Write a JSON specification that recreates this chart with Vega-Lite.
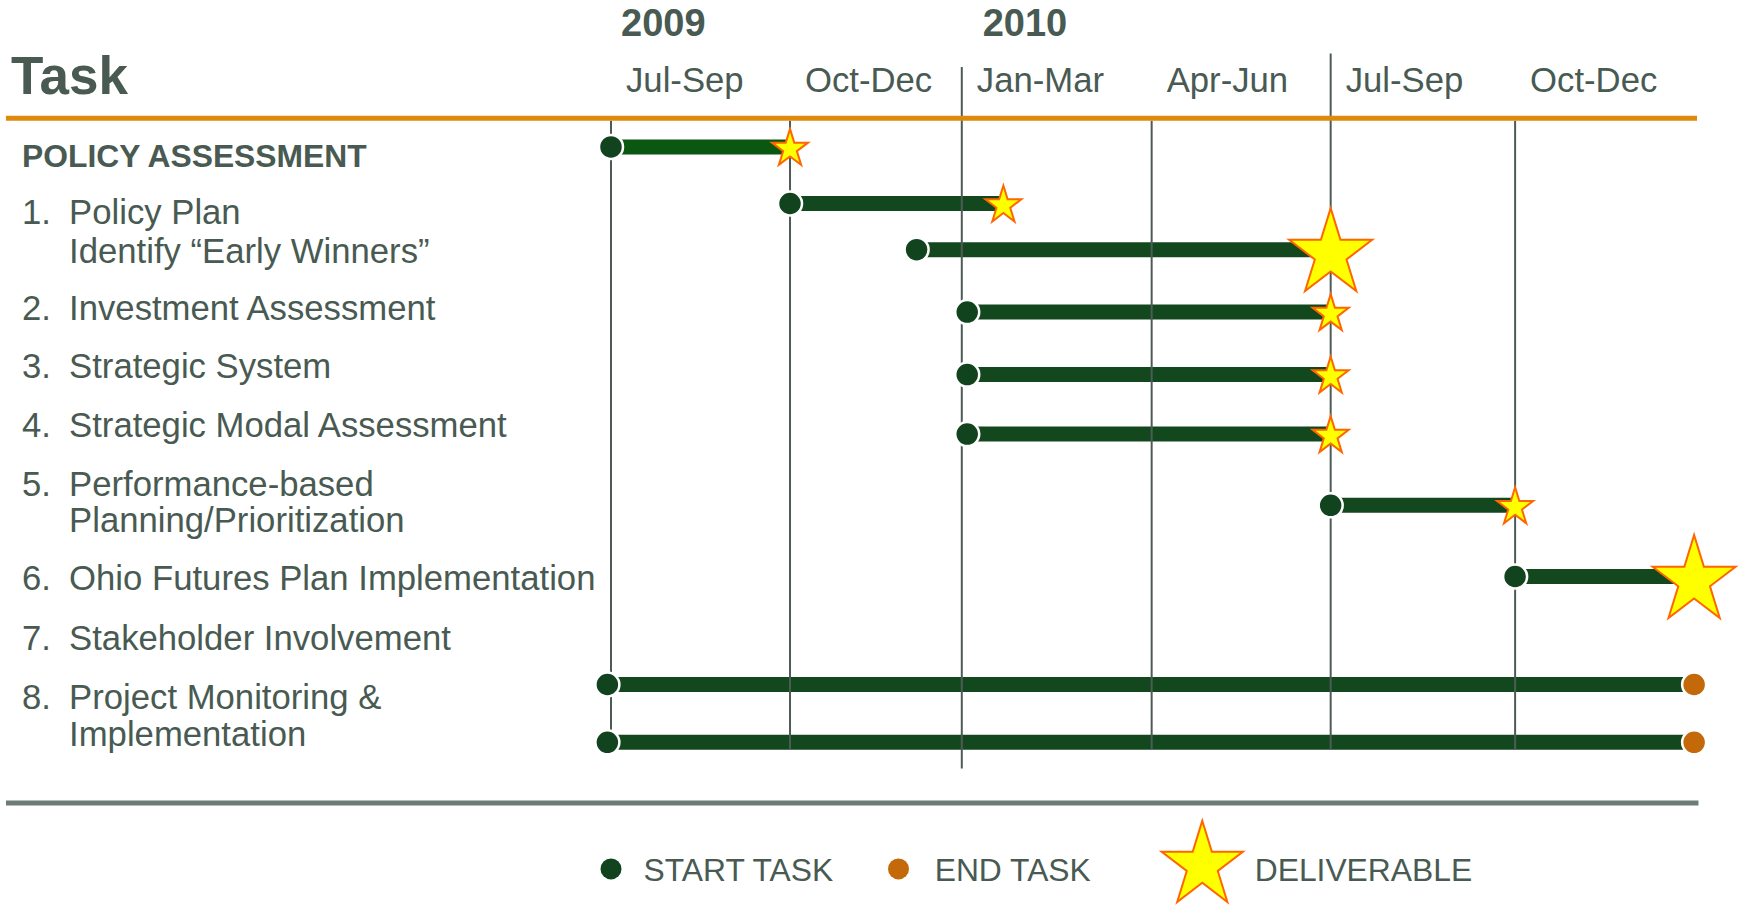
{
  "$schema": "https://vega.github.io/schema/vega-lite/v6.json",
  "width": 1750,
  "height": 906,
  "autosize": {"type": "fit", "contains": "padding"},
  "padding": 0,
  "background": "white",
  "config": {"view": {"stroke": null}, "font": "Liberation Sans", "text": {"font": "Liberation Sans"}},
  "data": {"values": [{}]},
  "datasets": {
    "tasks": [
      {"task": "Policy Assessment", "row": -0.15, "start": 0, "end": 0.99, "finish": "deliverable", "level": "minor"},
      {"task": "Policy Plan", "row": 0.82, "start": 0.99, "end": 2.17, "finish": "deliverable", "level": "minor"},
      {"task": "Identify Early Winners", "row": 1.61, "start": 1.69, "end": 3.98, "finish": "deliverable", "level": "major"},
      {"task": "Investment Assessment", "row": 2.68, "start": 1.97, "end": 3.98, "finish": "deliverable", "level": "minor"},
      {"task": "Strategic System", "row": 3.75, "start": 1.97, "end": 3.98, "finish": "deliverable", "level": "minor"},
      {"task": "Strategic Modal Assessment", "row": 4.77, "start": 1.97, "end": 3.98, "finish": "deliverable", "level": "minor"},
      {"task": "Performance-based Planning/Prioritization", "row": 5.99, "start": 3.98, "end": 5, "finish": "deliverable", "level": "minor"},
      {"task": "Ohio Futures Plan Implementation", "row": 7.21, "start": 5, "end": 5.99, "finish": "deliverable", "level": "major"},
      {"task": "Project Monitoring", "row": 9.06, "start": -0.02, "end": 5.99, "finish": "end", "level": "none"},
      {"task": "Implementation", "row": 10.05, "start": -0.02, "end": 5.99, "finish": "end", "level": "none"}
    ],
    "labels": [
      {"num": "1.", "text": "Policy Plan", "row": 0.96},
      {"num": "", "text": "Identify “Early Winners”", "row": 1.63},
      {"num": "2.", "text": "Investment Assessment", "row": 2.61},
      {"num": "3.", "text": "Strategic System", "row": 3.61},
      {"num": "4.", "text": "Strategic Modal Assessment", "row": 4.62},
      {"num": "5.", "text": "Performance-based", "row": 5.62},
      {"num": "", "text": "Planning/Prioritization", "row": 6.25},
      {"num": "6.", "text": "Ohio Futures Plan Implementation", "row": 7.24},
      {"num": "7.", "text": "Stakeholder Involvement", "row": 8.27},
      {"num": "8.", "text": "Project Monitoring &", "row": 9.27},
      {"num": "", "text": "Implementation", "row": 9.90}
    ],
    "quarters": [
      {"q": 0, "label": "Jul-Sep"},
      {"q": 0.99, "label": "Oct-Dec"},
      {"q": 1.94, "label": "Jan-Mar"},
      {"q": 2.99, "label": "Apr-Jun"},
      {"q": 3.98, "label": "Jul-Sep"},
      {"q": 5, "label": "Oct-Dec"}
    ],
    "years": [
      {"q": 0, "year": "2009"},
      {"q": 2, "year": "2010"}
    ]
  },
  "layer": [
    {
      "data": {"name": "tasks"},
      "mark": {"type": "rule", "strokeWidth": 15},
      "encoding": {
        "x": {"field": "start", "type": "quantitative", "scale": {"type": "linear", "domain": [-3.379, 6.299], "nice": false, "zero": false}, "axis": null},
        "x2": {"field": "end"},
        "y": {"field": "row", "type": "quantitative", "scale": {"type": "linear", "domain": [-2.6667, 12.8205], "reverse": true, "nice": false, "zero": false}, "axis": null},
        "color": {"condition": {"test": "datum.task === 'Policy Assessment'", "value": "#0a5712"}, "value": "#13481f"}
      }
    },
    {
      "data": {"name": "quarters"},
      "transform": [{"filter": "datum.label !== 'Jan-Mar' && !(datum.label === 'Jul-Sep' && datum.q > 3)"}],
      "mark": {"type": "rule", "strokeWidth": 2, "color": "#4d5b56"},
      "encoding": {
        "x": {"field": "q", "type": "quantitative", "scale": {"type": "linear", "domain": [-3.379, 6.299], "nice": false, "zero": false}, "axis": null},
        "y": {"datum": -0.60, "type": "quantitative", "scale": {"type": "linear", "domain": [-2.6667, 12.8205], "reverse": true, "nice": false, "zero": false}, "axis": null},
        "y2": {"datum": 10.17}
      }
    },
    {
      "data": {"name": "quarters"},
      "transform": [{"filter": "datum.label === 'Jan-Mar'"}],
      "mark": {"type": "rule", "strokeWidth": 2, "color": "#4d5b56"},
      "encoding": {
        "x": {"field": "q", "type": "quantitative", "axis": null},
        "y": {"datum": -1.52, "type": "quantitative", "axis": null},
        "y2": {"datum": 10.50}
      }
    },
    {
      "data": {"name": "quarters"},
      "transform": [{"filter": "datum.label === 'Jul-Sep' && datum.q > 3"}],
      "mark": {"type": "rule", "strokeWidth": 2, "color": "#4d5b56"},
      "encoding": {
        "x": {"field": "q", "type": "quantitative", "axis": null},
        "y": {"datum": -1.75, "type": "quantitative", "axis": null},
        "y2": {"datum": 10.17}
      }
    },
    {
      "mark": {"type": "rule", "strokeWidth": 5, "color": "#df8a0c"},
      "encoding": {
        "x": {"datum": -3.346, "type": "quantitative", "axis": null},
        "x2": {"datum": 6.006},
        "y": {"datum": -0.64, "type": "quantitative", "axis": null}
      }
    },
    {
      "mark": {"type": "rule", "strokeWidth": 5, "color": "#6c7c77"},
      "encoding": {
        "x": {"datum": -3.346, "type": "quantitative", "axis": null},
        "x2": {"datum": 6.014},
        "y": {"datum": 11.09, "type": "quantitative", "axis": null}
      }
    },
    {
      "data": {"name": "years"},
      "mark": {"type": "text", "align": "left", "baseline": "alphabetic", "dx": 10, "fontSize": 38, "fontWeight": "bold", "color": "#485a52"},
      "encoding": {
        "x": {"field": "q", "type": "quantitative", "axis": null},
        "y": {"datum": -2.05, "type": "quantitative", "axis": null},
        "text": {"field": "year"}
      }
    },
    {
      "data": {"name": "quarters"},
      "mark": {"type": "text", "align": "left", "baseline": "alphabetic", "dx": 15, "fontSize": 34.7, "color": "#485a52"},
      "encoding": {
        "x": {"field": "q", "type": "quantitative", "axis": null},
        "y": {"datum": -1.09, "type": "quantitative", "axis": null},
        "text": {"field": "label"}
      }
    },
    {
      "mark": {"type": "text", "text": "Task", "align": "left", "baseline": "alphabetic", "fontSize": 53, "fontWeight": "bold", "color": "#485a52"},
      "encoding": {
        "x": {"datum": -3.318, "type": "quantitative", "axis": null},
        "y": {"datum": -1.05, "type": "quantitative", "axis": null}
      }
    },
    {
      "mark": {"type": "text", "text": "POLICY ASSESSMENT", "align": "left", "baseline": "alphabetic", "dy": 11, "fontSize": 31.8, "fontWeight": "bold", "color": "#485a52"},
      "encoding": {
        "x": {"datum": -3.257, "type": "quantitative", "axis": null},
        "y": {"datum": 0.01, "type": "quantitative", "axis": null}
      }
    },
    {
      "data": {"name": "labels"},
      "transform": [{"filter": "datum.num !== ''"}],
      "mark": {"type": "text", "align": "left", "baseline": "alphabetic", "dy": 12, "fontSize": 34.7, "color": "#485a52"},
      "encoding": {
        "x": {"datum": -3.257, "type": "quantitative", "axis": null},
        "y": {"field": "row", "type": "quantitative", "axis": null},
        "text": {"field": "num"}
      }
    },
    {
      "data": {"name": "labels"},
      "mark": {"type": "text", "align": "left", "baseline": "alphabetic", "dy": 12, "fontSize": 34.7, "color": "#485a52"},
      "encoding": {
        "x": {"datum": -2.997, "type": "quantitative", "axis": null},
        "y": {"field": "row", "type": "quantitative", "axis": null},
        "text": {"field": "text"}
      }
    },
    {
      "data": {"name": "tasks"},
      "mark": {"type": "point", "shape": "circle", "filled": true, "fill": "#12431f", "stroke": "white", "strokeWidth": 2.5, "opacity": 1, "size": 576},
      "encoding": {
        "x": {"field": "start", "type": "quantitative", "axis": null},
        "y": {"field": "row", "type": "quantitative", "axis": null}
      }
    },
    {
      "data": {"name": "tasks"},
      "transform": [{"filter": "datum.finish === 'end'"}],
      "mark": {"type": "point", "shape": "circle", "filled": true, "fill": "#c4690a", "stroke": "white", "strokeWidth": 2.5, "opacity": 1, "size": 576},
      "encoding": {
        "x": {"field": "end", "type": "quantitative", "axis": null},
        "y": {"field": "row", "type": "quantitative", "axis": null}
      }
    },
    {
      "data": {"name": "tasks"},
      "transform": [{"filter": "datum.finish === 'deliverable'"}],
      "mark": {"type": "point", "shape": "M0,-1L0.236,-0.236L1,-0.236L0.382,0.236L0.618,1L0,0.528L-0.618,1L-0.382,0.236L-1,-0.236L-0.236,-0.236Z", "filled": true, "fill": "#ffff00", "stroke": "#ff6600", "strokeWidth": 2, "opacity": 1},
      "encoding": {
        "x": {"field": "end", "type": "quantitative", "axis": null},
        "y": {"field": "row", "type": "quantitative", "axis": null},
        "size": {"field": "level", "type": "ordinal", "scale": {"domain": ["minor", "major"], "range": [1296, 6889]}, "legend": null}
      }
    },
    {
      "mark": {"type": "point", "shape": "circle", "filled": true, "fill": "#12431f", "opacity": 1, "size": 441},
      "encoding": {
        "x": {"datum": 0, "type": "quantitative", "axis": null},
        "y": {"datum": 12.22, "type": "quantitative", "axis": null}
      }
    },
    {
      "mark": {"type": "text", "text": "START TASK", "align": "left", "baseline": "alphabetic", "fontSize": 31.8, "color": "#485a52"},
      "encoding": {
        "x": {"datum": 0.18, "type": "quantitative", "axis": null},
        "y": {"datum": 12.42, "type": "quantitative", "axis": null}
      }
    },
    {
      "mark": {"type": "point", "shape": "circle", "filled": true, "fill": "#c4690a", "opacity": 1, "size": 441},
      "encoding": {
        "x": {"datum": 1.59, "type": "quantitative", "axis": null},
        "y": {"datum": 12.22, "type": "quantitative", "axis": null}
      }
    },
    {
      "mark": {"type": "text", "text": "END TASK", "align": "left", "baseline": "alphabetic", "fontSize": 31.8, "color": "#485a52"},
      "encoding": {
        "x": {"datum": 1.79, "type": "quantitative", "axis": null},
        "y": {"datum": 12.42, "type": "quantitative", "axis": null}
      }
    },
    {
      "mark": {"type": "point", "shape": "M0,-1L0.236,-0.236L1,-0.236L0.382,0.236L0.618,1L0,0.528L-0.618,1L-0.382,0.236L-1,-0.236L-0.236,-0.236Z", "filled": true, "fill": "#ffff00", "stroke": "#ff6600", "strokeWidth": 2, "opacity": 1, "size": 6600},
      "encoding": {
        "x": {"datum": 3.27, "type": "quantitative", "axis": null},
        "y": {"datum": 12.09, "type": "quantitative", "axis": null}
      }
    },
    {
      "mark": {"type": "text", "text": "DELIVERABLE", "align": "left", "baseline": "alphabetic", "fontSize": 31.8, "color": "#485a52"},
      "encoding": {
        "x": {"datum": 3.56, "type": "quantitative", "axis": null},
        "y": {"datum": 12.42, "type": "quantitative", "axis": null}
      }
    }
  ]
}
